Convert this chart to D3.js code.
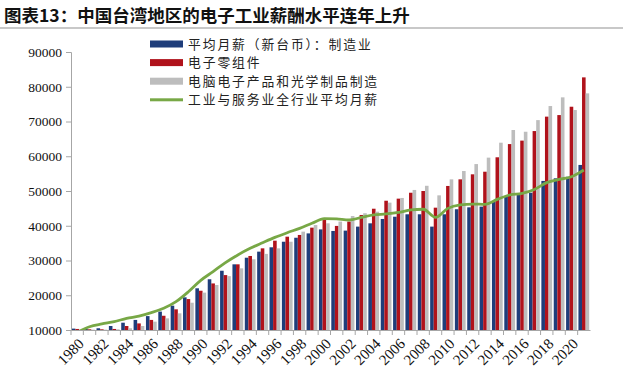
<!DOCTYPE html>
<html>
<head>
  <meta charset="utf-8">
  <style>
    body { margin: 0; background: #fff; }
    .axis text { font-family: "Liberation Serif", serif; font-size: 13.5px; fill: #111; }
    .axis path, .axis line { stroke: #a6a6a6; }
    .legend text { font-family: "Noto Sans CJK SC", sans-serif; fill: #222; }
  </style>
</head>
<body>
  <svg id="chart" width="644" height="385"></svg>

  <script src="https://cdn.jsdelivr.net/npm/d3@7"></script>
  <script>
    // data
    const years = d3.range(1980, 2022);
    const yTicks = [10000, 20000, 30000, 40000, 50000, 60000, 70000, 80000, 90000];
    const seriesNames = ["平均月薪（新台币）：制造业", "电子零组件", "电脑电子产品和光学制品制造", "工业与服务业全行业平均月薪"];

    const manufacturing = [10400, 10300, 10500, 11150, 12100, 12900, 14000, 15300, 17000, 19400,
      22000, 24600, 27050, 28900, 30800, 32550, 33800, 35400, 36550, 37800,
      38950, 38500, 38600, 39750, 40700, 41950, 42600, 43300, 43300, 39750,
      43300, 44750, 45300, 45500, 46950, 48550, 48850, 49500, 52900, 53650,
      54100, 57500];
    const components = [10300, 10200, 10200, 10300, 11150, 11900, 12900, 14100, 15950, 18900,
      21300, 23400, 25800, 28900, 31300, 33500, 35700, 36850, 37350, 39450,
      41650, 39950, 41200, 43100, 44900, 47200, 47800, 49500, 50000, 45200,
      51450, 53350, 54800, 55550, 59700, 63500, 64500, 67250, 71400, 71850,
      74250, 82700];
    const computers = [10100, 10100, 10100, 10200, 10500, 11150, 12400, 13350, 14800, 17850,
      20750, 22950, 25500, 27750, 30350, 31900, 33500, 35400, 38300, 40200,
      40700, 41200, 42800, 43600, 44050, 46650, 48000, 50300, 51500, 48750,
      53350, 55750, 57750, 59600, 63900, 67550, 67050, 70400, 74450, 76950,
      73300, 78100];
    const allIndustry = [9300, 10950, 11750, 12400, 13350, 14000, 15000, 16250, 18150, 21000,
      24300, 26800, 29400, 31600, 33500, 35100, 36650, 38000, 39250, 40700,
      42050, 41950, 41650, 42400, 43100, 43400, 43850, 44550, 44750, 42400,
      45000, 46000, 46250, 46150, 47600, 48850, 49300, 50450, 52400, 53350,
      54100, 56050];

    const barColors = ["#1f3d7a", "#b0121b", "#bdbdbd"];
    const lineColor = "#78a846";

    const margin = { top: 52, right: 54, bottom: 55, left: 71 };
    const width = 644, height = 385;

    const svg = d3.select("#chart");

    // title
    svg.append("text")
      .attr("x", 4).attr("y", 22)
      .style("font-family", "'Noto Sans CJK SC', sans-serif")
      .style("font-weight", "bold")
      .style("font-size", "17.5px")
      .attr("fill", "#111")
      .text("图表13：中国台湾地区的电子工业薪酬水平连年上升");

    svg.append("line")
      .attr("x1", 0).attr("x2", 623)
      .attr("y1", 28).attr("y2", 28)
      .attr("stroke", "#c8c8c8").attr("stroke-width", 2);

    const x0 = d3.scaleBand()
      .domain(years)
      .range([margin.left, width - margin.right])
      .padding(0);

    const x1 = d3.scaleBand()
      .domain([0, 1, 2])
      .range([0.8, x0.bandwidth() - 0.8]);

    const y = d3.scaleLinear()
      .domain([10000, 90000])
      .range([height - margin.bottom, margin.top]);

    // bars
    const table = years.map((yr, i) => ({ year: yr, vals: [manufacturing[i], components[i], computers[i]] }));

    const groups = svg.append("g").selectAll("g")
      .data(table)
      .join("g")
      .attr("transform", d => `translate(${x0(d.year)},0)`);

    groups.selectAll("rect")
      .data(d => d.vals.map((v, k) => ({ k, v })))
      .join("rect")
      .attr("x", d => x1(d.k))
      .attr("width", x1.bandwidth())
      .attr("y", d => y(d.v))
      .attr("height", d => y(10000) - y(d.v))
      .attr("fill", d => barColors[d.k]);

    // axes
    svg.append("g")
      .attr("class", "axis")
      .attr("transform", `translate(${margin.left},0)`)
      .call(d3.axisLeft(y).tickValues(yTicks).tickSize(5).tickPadding(4).tickFormat(d3.format("d")));

    const xAxis = svg.append("g")
      .attr("class", "axis")
      .attr("transform", `translate(0,${height - margin.bottom})`)
      .call(d3.axisBottom(x0).tickSize(5).tickSizeOuter(0).tickFormat(d => d % 2 === 0 ? d : ""));

    xAxis.selectAll(".tick line")
      .attr("transform", `translate(${-x0.bandwidth() / 2},0)`);

    xAxis.selectAll(".tick text")
      .style("font-size", "15px")
      .attr("text-anchor", "end")
      .attr("x", 0).attr("y", 0)
      .attr("dy", "0.35em")
      .attr("transform", "translate(4,11) rotate(-45)");

    // green line
    svg.append("clipPath").attr("id", "plot-clip")
      .append("rect")
      .attr("x", margin.left).attr("y", margin.top)
      .attr("width", width - margin.left - margin.right)
      .attr("height", height - margin.top - margin.bottom);

    const line = d3.line()
      .x((d, i) => x0(years[i]) + x0.bandwidth() / 2)
      .y(d => y(d))
      .curve(d3.curveMonotoneX);

    svg.append("path")
      .datum(allIndustry)
      .attr("clip-path", "url(#plot-clip)")
      .attr("fill", "none")
      .attr("stroke", lineColor)
      .attr("stroke-width", 2.8)
      .attr("d", line);

    // legend
    const legend = svg.append("g").attr("class", "legend")
      .attr("transform", "translate(150,44)");

    const items = legend.selectAll("g")
      .data(seriesNames)
      .join("g")
      .attr("transform", (d, i) => `translate(0,${i * 18.6})`);

    items.append("rect")
      .attr("x", 0)
      .attr("y", (d, i) => i === 3 ? -1.5 : -3.5)
      .attr("width", 33)
      .attr("height", (d, i) => i === 3 ? 3 : 7)
      .attr("fill", (d, i) => i === 3 ? lineColor : barColors[i]);

    items.append("text")
      .attr("x", 38).attr("y", 0)
      .attr("dy", "0.36em")
      .style("font-size", "12.8px")
      .style("letter-spacing", "1.9px")
      .text(d => d);
  </script>
</body>
</html>
